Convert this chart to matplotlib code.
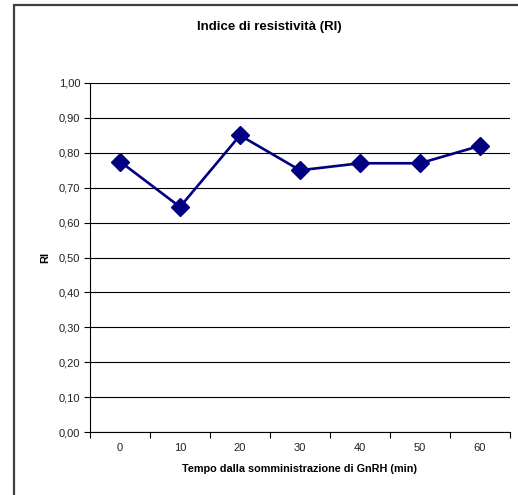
import matplotlib
matplotlib.use("Agg")
import matplotlib.pyplot as plt
from matplotlib.patches import Rectangle
from matplotlib.ticker import FixedLocator, MultipleLocator, FuncFormatter

plt.rcParams['font.family'] = ['Liberation Sans', 'DejaVu Sans']

# Data
time_labels = ["0", "10", "20", "30", "40", "50", "60"]
ri_values = [0.775, 0.645, 0.85, 0.75, 0.77, 0.77, 0.82]

W, H = 518, 495
fig = plt.figure(figsize=(W / 100, H / 100), dpi=100)

# Chart-area border (runs off the right and bottom edges)
fig.patches.append(Rectangle((14 / W, -0.1), 1.2, 1 - 5 / H + 0.1,
                             transform=fig.transFigure, fill=False,
                             edgecolor='#404040', linewidth=1.6))

left, right, top, bottom = 90, 510, 83, 432
ax = fig.add_axes([left / W, 1 - bottom / H, (right - left) / W, (bottom - top) / H])

x = list(range(len(ri_values)))
ax.plot(x, ri_values, color='#000080', linewidth=1.9, marker='D',
        markersize=9.5, markerfacecolor='#000080', markeredgecolor='#000080',
        zorder=3, clip_on=False)

ax.set_xlim(-0.5, len(ri_values) - 0.5)
ax.set_ylim(0, 1.0)

ax.yaxis.set_major_locator(MultipleLocator(0.1))
ax.yaxis.set_major_formatter(FuncFormatter(lambda v, p: f"{v:.2f}".replace('.', ',')))
ax.grid(axis='y', color='black', linewidth=0.8)
ax.set_axisbelow(True)

# Category labels centred, tick marks on the boundaries
ax.xaxis.set_major_locator(FixedLocator([i - 0.5 for i in range(len(ri_values) + 1)]))
ax.xaxis.set_minor_locator(FixedLocator(x))
ax.set_xticklabels([])
ax.set_xticklabels(time_labels, minor=True)
ax.tick_params(axis='x', which='minor', length=0, pad=8, labelsize=8, labelcolor='#222222')
ax.tick_params(axis='x', which='major', length=4, width=0.8, direction='out')
ax.tick_params(axis='y', length=4, width=0.8, direction='out', labelsize=8, pad=3,
               labelcolor='#222222')

for s in ['top', 'right']:
    ax.spines[s].set_visible(False)
for s in ['left', 'bottom']:
    ax.spines[s].set_linewidth(0.8)

ax.set_xlabel("Tempo dalla somministrazione di GnRH (min)", fontsize=7.8,
              fontweight='bold', labelpad=8)
ax.set_ylabel("RI", fontsize=8, fontweight='bold', labelpad=6)
fig.text(269 / W, 1 - 27 / H, "Indice di resistività (RI)", fontsize=9.5,
         fontweight='bold', ha='center', va='center')

fig.savefig("out.png", dpi=100)
